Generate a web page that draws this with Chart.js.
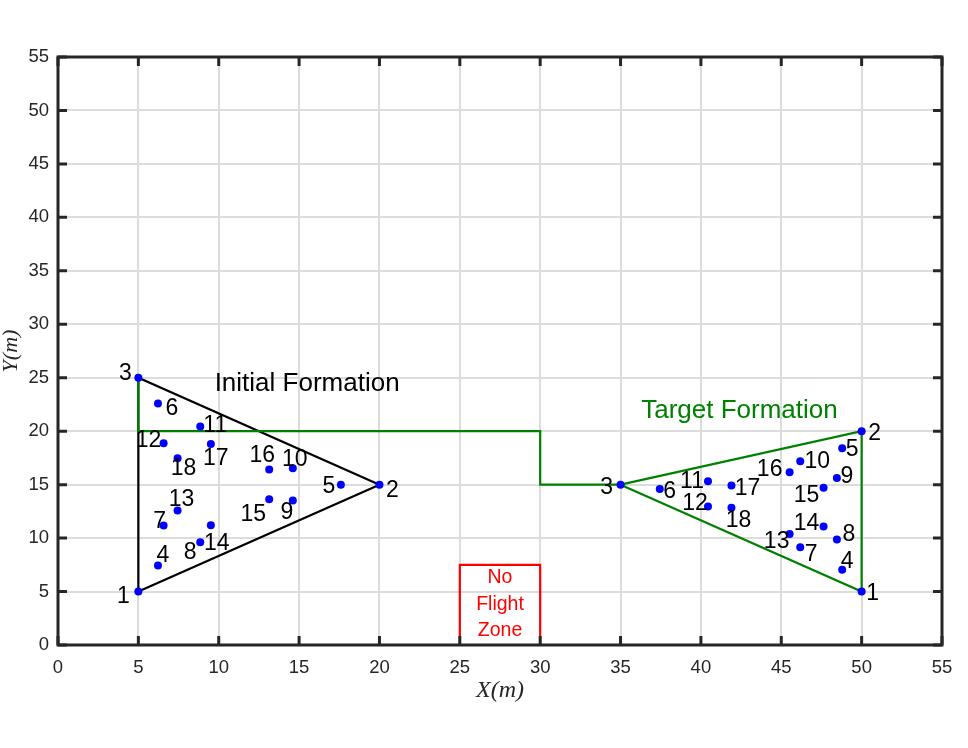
<!DOCTYPE html>
<html>
<head>
<meta charset="utf-8">
<title>Formation</title>
<script src="https://cdn.jsdelivr.net/npm/chart.js@4.4.1/dist/chart.umd.min.js"></script>
<style>
  html, body { margin: 0; padding: 0; background: #fff; }
  #wrap { width: 968px; height: 748px; }
</style>
</head>
<body>
<div id="wrap"><canvas id="chart" width="968" height="748"></canvas></div>
<script>
// agent numbers 1..18
const agentIds = ['1','2','3','4','5','6','7','8','9','10','11','12','13','14','15','16','17','18'];

// initial formation positions (m)
const initX = [5, 20, 5, 6.22, 17.6, 6.22, 6.57, 8.85, 14.61, 14.61, 8.85, 6.57, 7.44, 9.51, 13.14, 13.14, 9.51, 7.44];
const initY = [5, 15, 25, 7.43, 15.0, 22.6, 11.17, 9.61, 13.51, 16.53, 20.43, 18.87, 12.57, 11.2, 13.63, 16.41, 18.81, 17.47];

// target formation positions (m)
const targX = [50, 50, 35, 48.79, 48.79, 37.44, 46.18, 48.46, 48.46, 46.18, 40.44, 40.44, 45.52, 47.63, 47.63, 45.52, 41.9, 41.9];
const targY = [5, 20, 15, 7.03, 18.4, 14.6, 9.14, 9.86, 15.63, 17.18, 15.31, 12.95, 10.39, 11.08, 14.7, 16.16, 14.91, 12.83];

// leader route around the no flight zone
const routeX = [5, 5, 30, 30, 35];
const routeY = [25, 20, 20, 15, 15];

// no flight zone box
const zoneX = [25, 25, 30, 30];
const zoneY = [0, 7.5, 7.5, 0];

const tickValues = [0, 5, 10, 15, 20, 25, 30, 35, 40, 45, 50, 55];

// label nudges in pixels (style only)
const initLabelShift = [[-15,5],[13,6],[-13,-4],[5,-10],[-12,2],[14,5],[-4,-4],[-10,10],[-6,12],[2,-9],[15,-1],[-15,-3],[4,-11],[6,18],[-16,15],[-7,-14],[5,15],[6,10]];
const targLabelShift = [[11,2],[13,2],[-14,3],[5,-8],[10,1],[10,3],[11,7],[12,-5],[10,-1],[17,0],[-16,0],[-13,-3],[-13,8],[-17,-3],[-17,8],[-20,-3],[16,3],[7,13]];

const notes = [
    { text: ['Initial Formation'], x: 15.5, y: 24.45, color: '#000000', size: 26, gap: 0 },
    { text: ['Target Formation'], x: 42.4, y: 21.9, color: '#008000', size: 26, gap: 0 },
    { text: ['No', 'Flight', 'Zone'], x: 27.5, y: 3.8, color: '#ff0000', size: 19.5, gap: 26.5 }
];

const toPoints = (xs, ys) => xs.map((x, i) => ({ x: x, y: ys[i] }));
const pick = (xs, ys, idx) => idx.map(i => ({ x: xs[i], y: ys[i] }));

const inkColor = '#262626';
const sans = 'Arial, "Liberation Sans", sans-serif';
const serif = '"Liberation Serif", "DejaVu Serif", serif';

const frameAndLabels = {
    id: 'frameAndLabels',
    afterDraw(chart) {
        const ctx = chart.ctx;
        const a = chart.chartArea;
        const sx = chart.scales.x, sy = chart.scales.y;

        // agent numbers
        ctx.save();
        ctx.fillStyle = '#000';
        ctx.font = '23px ' + sans;
        ctx.textAlign = 'center';
        ctx.textBaseline = 'middle';
        agentIds.forEach((id, i) => {
            ctx.fillText(id, sx.getPixelForValue(initX[i]) + initLabelShift[i][0], sy.getPixelForValue(initY[i]) + initLabelShift[i][1]);
            ctx.fillText(id, sx.getPixelForValue(targX[i]) + targLabelShift[i][0], sy.getPixelForValue(targY[i]) + targLabelShift[i][1]);
        });

        // text notes
        notes.forEach(n => {
            ctx.fillStyle = n.color;
            ctx.font = n.size + 'px ' + sans;
            const cy = sy.getPixelForValue(n.y);
            n.text.forEach((t, k) => {
                ctx.fillText(t, sx.getPixelForValue(n.x), cy + (k - (n.text.length - 1) / 2) * n.gap);
            });
        });

        // axes box with inward ticks
        ctx.strokeStyle = inkColor;
        ctx.lineWidth = 3;
        ctx.strokeRect(a.left, a.top, a.right - a.left, a.bottom - a.top);
        const tl = 9;
        ctx.beginPath();
        tickValues.forEach(v => {
            const px = sx.getPixelForValue(v);
            ctx.moveTo(px, a.bottom); ctx.lineTo(px, a.bottom - tl);
            ctx.moveTo(px, a.top); ctx.lineTo(px, a.top + tl);
            const py = sy.getPixelForValue(v);
            ctx.moveTo(a.left, py); ctx.lineTo(a.left + tl, py);
            ctx.moveTo(a.right, py); ctx.lineTo(a.right - tl, py);
        });
        ctx.stroke();
        ctx.restore();
    }
};

const ctx = document.getElementById('chart').getContext('2d');
new Chart(ctx, {
    type: 'scatter',
    data: {
        datasets: [
            {
                label: 'initial',
                data: toPoints(initX, initY),
                backgroundColor: '#0000ff',
                borderWidth: 0,
                pointRadius: 4
            },
            {
                label: 'target',
                data: toPoints(targX, targY),
                backgroundColor: '#0000ff',
                borderWidth: 0,
                pointRadius: 4
            },
            {
                label: 'route',
                data: toPoints(routeX, routeY),
                showLine: true,
                borderColor: '#008000',
                borderWidth: 2.2,
                pointRadius: 0
            },
            {
                label: 'target triangle',
                data: pick(targX, targY, [2, 1, 0, 2]),
                showLine: true,
                borderColor: '#008000',
                borderWidth: 2.2,
                pointRadius: 0
            },
            {
                label: 'initial triangle',
                data: pick(initX, initY, [0, 1, 2, 0]),
                showLine: true,
                borderColor: '#000000',
                borderWidth: 2.2,
                pointRadius: 0
            },
            {
                label: 'no flight zone',
                data: toPoints(zoneX, zoneY),
                showLine: true,
                borderColor: '#ff0000',
                borderWidth: 2.2,
                pointRadius: 0
            }
        ]
    },
    options: {
        responsive: false,
        animation: false,
        devicePixelRatio: 1,
        layout: { padding: { left: 0, top: 57, right: 26, bottom: 0 } },
        plugins: {
            legend: { display: false },
            tooltip: { enabled: false }
        },
        scales: {
            x: {
                type: 'linear',
                min: 0,
                max: 55,
                afterFit: s => { s.height = 103; },
                afterBuildTicks: s => { s.ticks = tickValues.map(v => ({ value: v })); },
                grid: { color: '#dcdcdc', lineWidth: 2, drawTicks: false },
                border: { display: false },
                ticks: {
                    padding: 12,
                    color: inkColor,
                    font: { family: sans, size: 18.5 }
                },
                title: {
                    display: true,
                    text: 'X(m)',
                    color: inkColor,
                    font: { family: serif, size: 24, style: 'italic', lineHeight: 1.2 },
                    padding: { top: 0, bottom: 43 }
                }
            },
            y: {
                type: 'linear',
                min: 0,
                max: 55,
                afterFit: s => { s.width = 58; },
                afterBuildTicks: s => { s.ticks = tickValues.map(v => ({ value: v })); },
                grid: { color: '#dcdcdc', lineWidth: 2, drawTicks: false },
                border: { display: false },
                ticks: {
                    padding: 9,
                    color: inkColor,
                    font: { family: sans, size: 18.5 }
                },
                title: {
                    display: true,
                    text: 'Y(m)',
                    color: inkColor,
                    font: { family: serif, size: 22, style: 'italic', lineHeight: 1 },
                    padding: { top: 0, bottom: 0 }
                }
            }
        }
    },
    plugins: [frameAndLabels]
});
</script>
</body>
</html>
